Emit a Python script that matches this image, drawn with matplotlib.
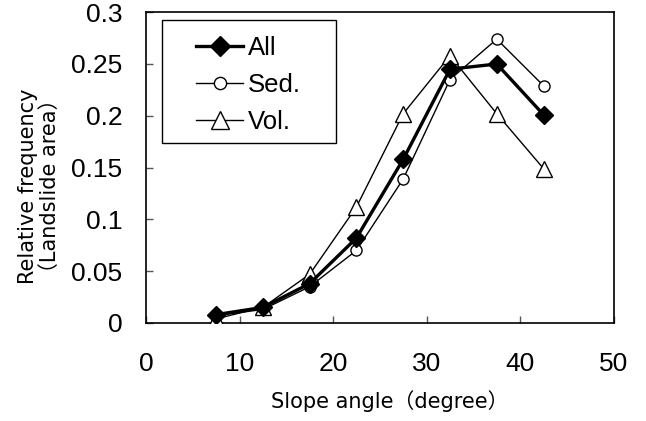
import matplotlib
matplotlib.use('Agg')
import matplotlib.pyplot as plt
from matplotlib.patches import Rectangle

# slope angle class centres and relative frequencies
slope = [7.5, 12.5, 17.5, 22.5, 27.5, 32.5, 37.5, 42.5]
freq_all = [0.008, 0.015, 0.038, 0.082, 0.158, 0.245, 0.250, 0.201]
freq_sed = [0.007, 0.013, 0.035, 0.070, 0.139, 0.235, 0.274, 0.229]
freq_vol = [0.004, 0.015, 0.047, 0.112, 0.202, 0.258, 0.202, 0.149]

x_ticks = [0, 10, 20, 30, 40, 50]
y_ticks = [0, 0.05, 0.1, 0.15, 0.2, 0.25, 0.3]
y_tick_labels = ['0', '0.05', '0.1', '0.15', '0.2', '0.25', '0.3']

fig = plt.figure(figsize=(6.46, 4.21), dpi=100)
ax = fig.add_axes([0.226, 0.233, 0.724, 0.738])

ax.plot(slope, freq_all, color='black', lw=2.4, marker='D', ms=9,
        mfc='black', mec='black', label='All', zorder=4)
ax.plot(slope, freq_sed, color='black', lw=1.0, marker='o', ms=8,
        mfc='white', mec='black', mew=1.0, label='Sed.', zorder=3)
ax.plot(slope, freq_vol, color='black', lw=1.0, marker='^', ms=12,
        mfc='white', mec='black', mew=1.0, label='Vol.', zorder=3)

ax.set_xlim(0, 50)
ax.set_ylim(0, 0.3)
ax.set_xticks(x_ticks)
ax.set_yticks(y_ticks)
ax.set_yticklabels(y_tick_labels)

tick_font = 'Liberation Sans'
for lab in ax.get_xticklabels() + ax.get_yticklabels():
    lab.set_fontfamily(tick_font)
    lab.set_fontsize(19)

ax.tick_params(direction='in', length=5, width=1, color='#555555')
ax.tick_params(axis='x', pad=21)
ax.tick_params(axis='y', pad=17)
for s in ax.spines.values():
    s.set_linewidth(1.2)

label_font = ['DejaVu Sans', 'Noto Sans CJK JP']
ax.set_xlabel('Slope angle\uff08degree\uff09', fontsize=15, family=label_font)
ax.xaxis.set_label_coords(0.521, -0.215)
ax.set_ylabel('Relative frequency\n\uff08Landslide area\uff09', fontsize=15,
              family=label_font, linespacing=1.1)
ax.yaxis.set_label_coords(-0.184, 0.44)

# legend: entries without frame, plus a wide box around them
leg = ax.legend(loc='center left', bbox_to_anchor=(0.107, 0.765),
                prop={'family': tick_font, 'size': 18.5}, frameon=False,
                handlelength=1.83, handletextpad=0.2, labelspacing=0.5,
                borderpad=0, borderaxespad=0, markerscale=1.1)
ax.add_patch(Rectangle((0.034, 0.579), 0.372, 0.395, transform=ax.transAxes,
                       fill=False, edgecolor='black', lw=1.0, zorder=5))

fig.savefig('out.png', dpi=100)
